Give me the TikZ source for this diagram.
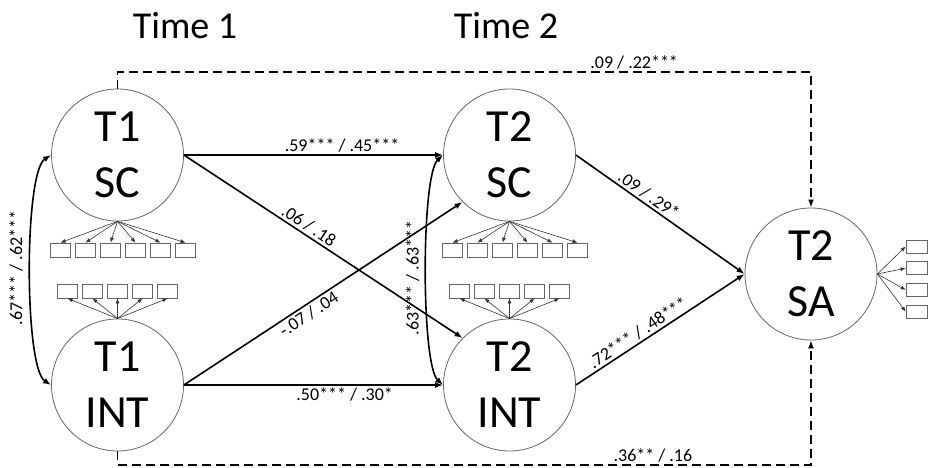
\documentclass[tikz,border=0pt]{standalone}
\usepackage{fontspec}
\setmainfont{Carlito}
\usetikzlibrary{arrows.meta}

\begin{document}
\begin{tikzpicture}[x=1pt,y=-1pt,
    latent/.style={circle,draw=black!60,line width=0.8pt,minimum size=132pt,inner sep=0pt,
        align=center,font=\fontsize{46}{56}\selectfont},
    item/.style={draw=black!60,line width=0.7pt,minimum width=20pt,minimum height=14pt,inner sep=0pt},
    load/.style={-{Latex[length=5pt,width=4pt]},line width=0.6pt,black!80},
    path/.style={-{Latex[length=8pt,width=6pt]},line width=1.6pt},
    corr/.style={{Latex[length=8pt,width=6pt]}-{Latex[length=8pt,width=6pt]},line width=1.6pt},
    indirect/.style={path,dash pattern=on 9pt off 5pt},
    lbl/.style={font=\fontsize{18}{20}\selectfont,inner sep=2pt},
    heading/.style={font=\fontsize{38}{44}\selectfont,anchor=base}]

\useasboundingbox (0,0) rectangle (929,468);

\node[heading] (time1) at (185,39) {Time 1};
\node[heading] (time2) at (506,39) {Time 2};

\node[latent] (sc1) at (117.5,155) {T1\\SC};
\node[latent] (int1) at (117.5,385) {T1\\INT};
\node[latent] (sc2) at (509.5,155) {T2\\SC};
\node[latent] (int2) at (509.5,385) {T2\\INT};
\node[latent] (sa) at (811,274) {T2\\SA};

% indicators
\foreach \i in {0,...,5} {
    \node[item] (sc1i\i) at (60.5+25*\i,250) {};
    \draw[load] (sc1.south) -- (sc1i\i.north);
    \node[item] (sc2i\i) at (452.5+25*\i,250) {};
    \draw[load] (sc2.south) -- (sc2i\i.north);
}
\foreach \i in {0,...,4} {
    \node[item] (int1i\i) at (67.5+25*\i,291) {};
    \draw[load] (int1.north) -- (int1i\i.south);
    \node[item] (int2i\i) at (459.5+25*\i,291) {};
    \draw[load] (int2.north) -- (int2i\i.south);
}
\foreach \i in {0,...,3} {
    \node[item,minimum width=21pt,minimum height=13pt] (sai\i) at (916.5,246.5+21.7*\i) {};
    \draw[load] (sa.east) -- (sai\i.west);
}

% stability and cross-lagged paths
\draw[path] (sc1.east) -- node[lbl,above,pos=0.61] {.59*** / .45***} (sc2.west);
\draw[path] (int1.east) -- node[lbl,below,pos=0.62] {.50*** / .30*} (int2.west);
\draw[path] (sc1.east) -- node[lbl,sloped,above,pos=0.43] {.06 / .18} (int2.north west);
\draw[path] (int1.east) -- node[lbl,sloped,below,pos=0.43] {-.07 / .04} (sc2.south west);

% paths to SA
\draw[path] (sc2.east) -- node[lbl,sloped,above,pos=0.4] {.09 / .29*} (sa.west);
\draw[path] (int2.east) -- node[lbl,sloped,above,pos=0.4] {.72*** / .48***} (sa.west);

% correlations
\draw[corr] (sc1.west) .. controls (24,172) and (24,368) .. (int1.west);
\node[lbl,rotate=90] (r1) at (16,268) {.67*** / .62***};
\draw[corr] (sc2.west) .. controls (421,175) and (421,365) .. (int2.west);
\node[lbl,rotate=90] (r2) at (412.5,278) {.63*** / .63***};

% direct paths from time 1
\coordinate (topline) at (0,72);
\coordinate (botline) at (0,465);
\draw[indirect] (sc1.north) -- (sc1.north |- topline)
    -- node[lbl,above,pos=0.745] {.09 / .22***} (sa.north |- topline) -- (sa.north);
\draw[indirect] (int1.south) -- (int1.south |- botline)
    -- node[lbl,above,pos=0.772] {.36** / .16} (sa.south |- botline) -- (sa.south);

\end{tikzpicture}
\end{document}
